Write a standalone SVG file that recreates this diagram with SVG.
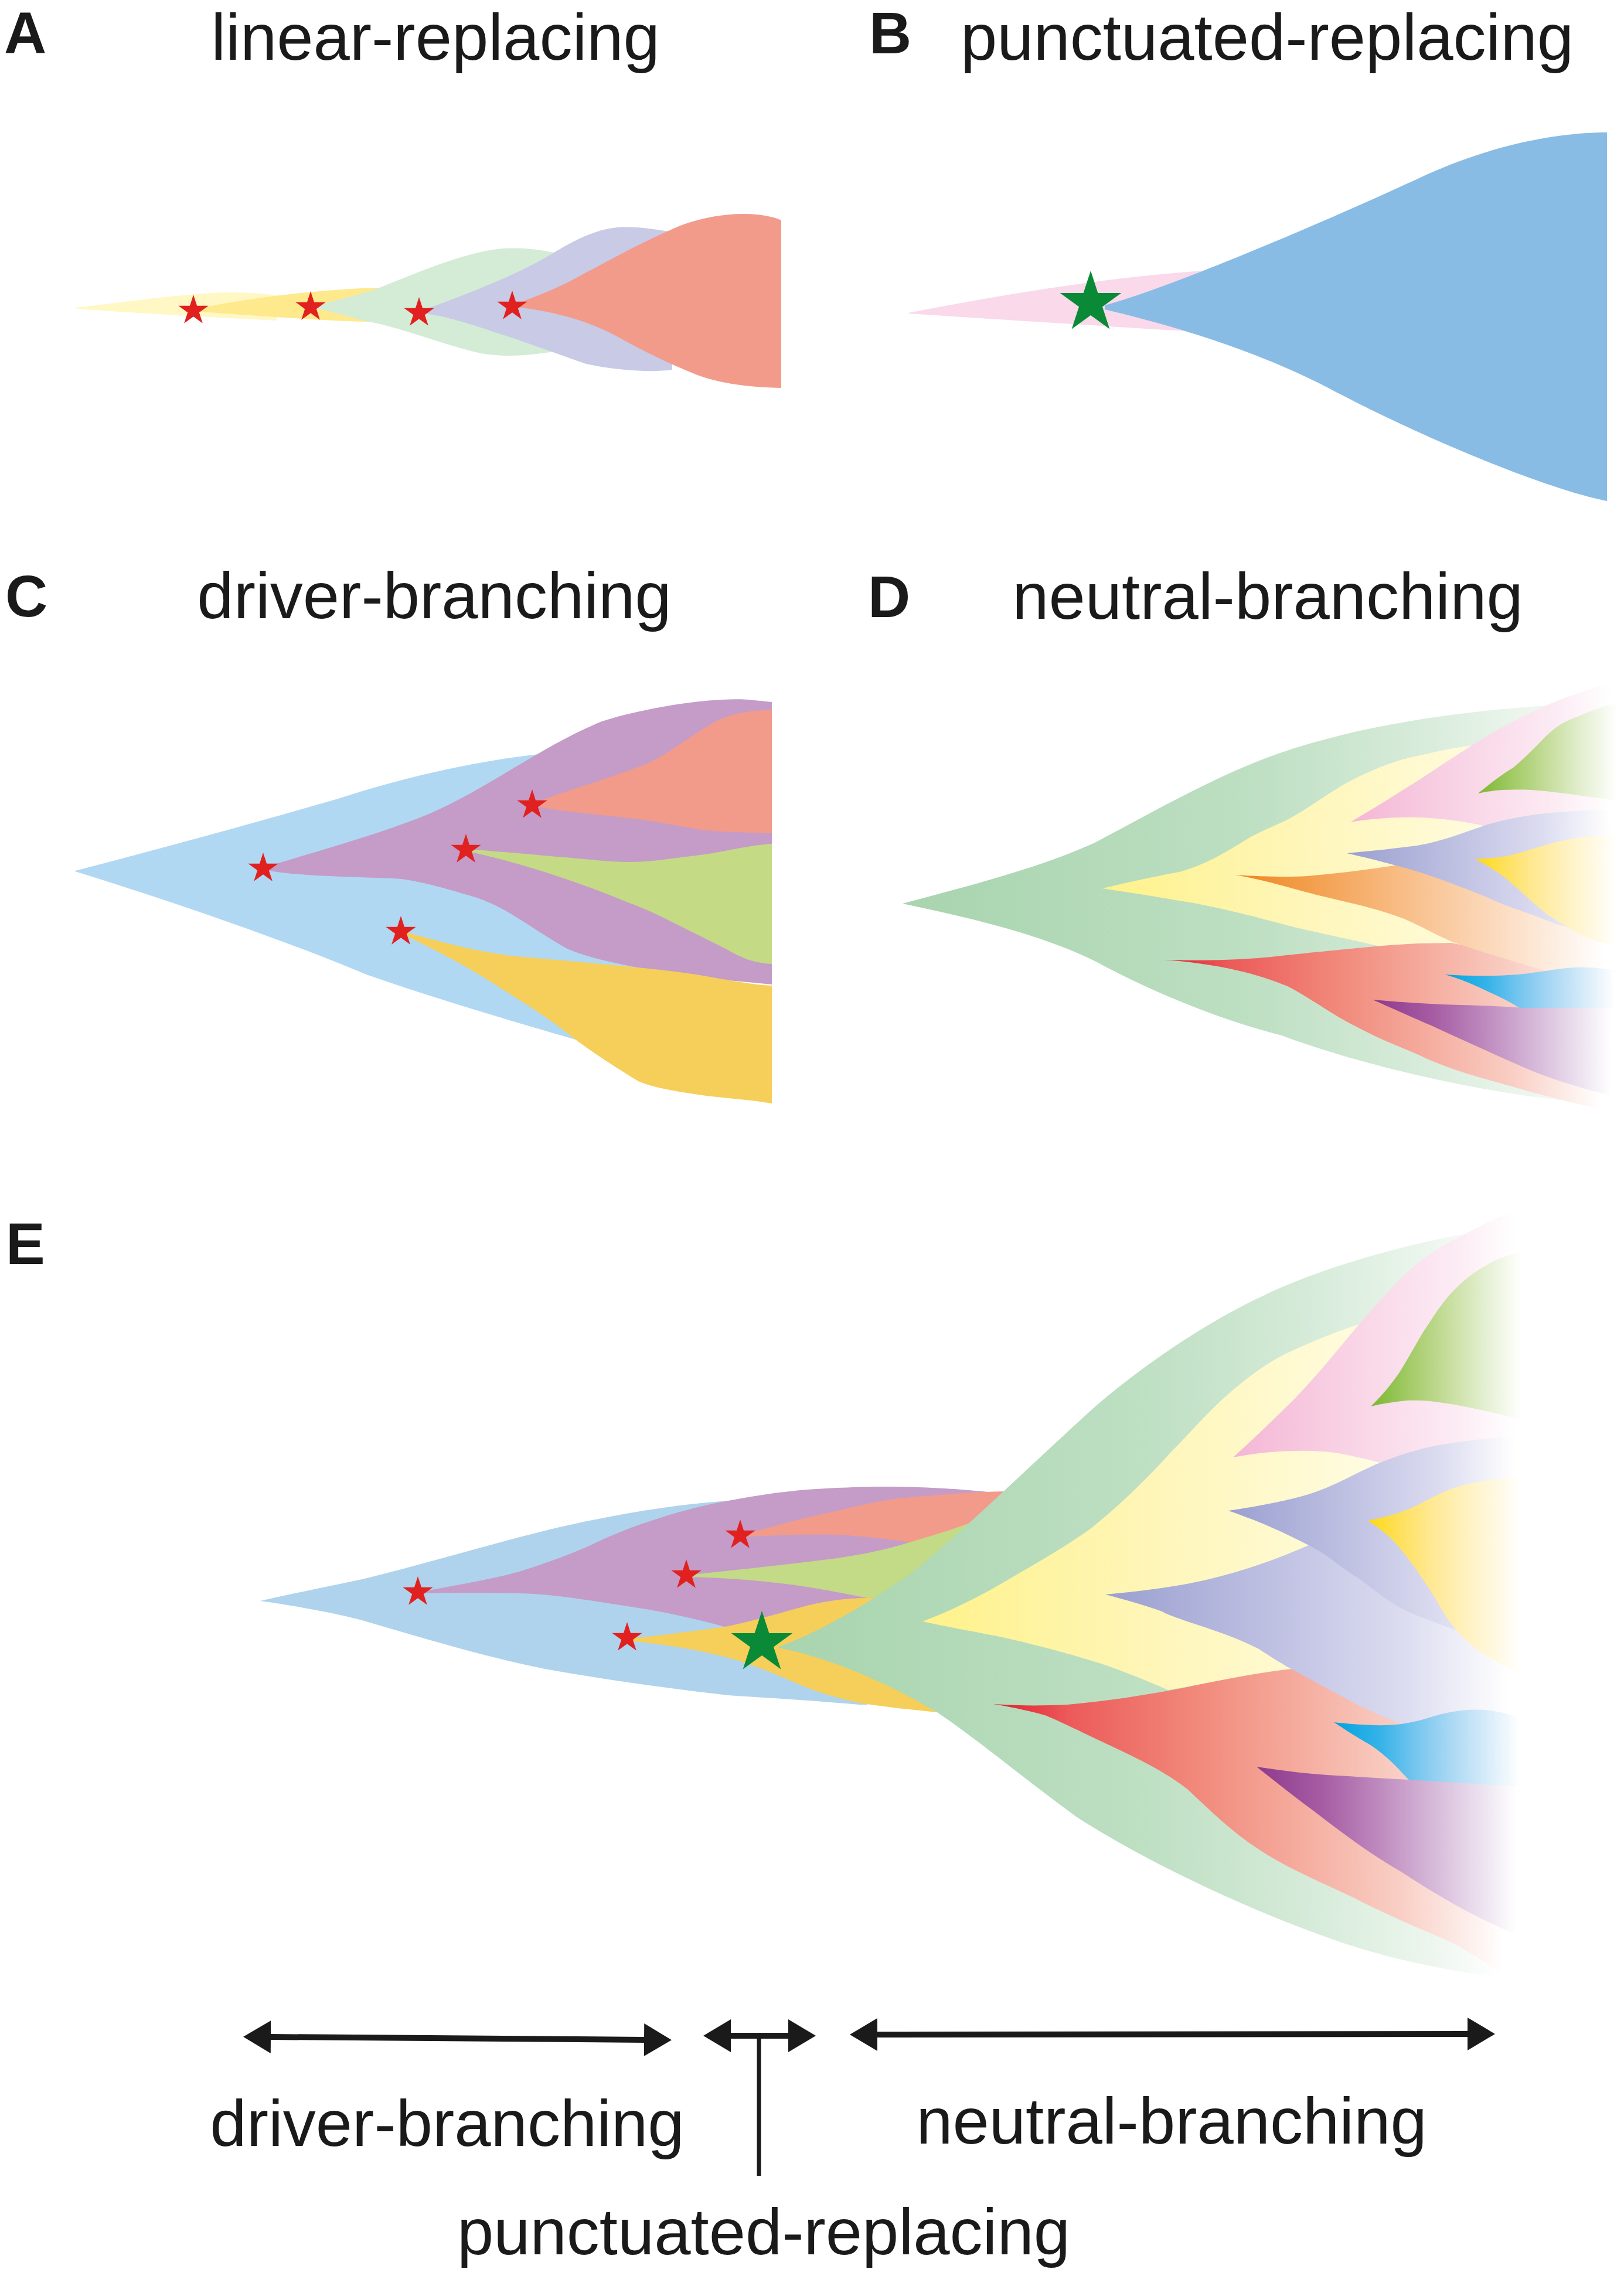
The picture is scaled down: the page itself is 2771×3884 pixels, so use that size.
<svg xmlns="http://www.w3.org/2000/svg" xmlns:xlink="http://www.w3.org/1999/xlink" width="2771" height="3884" viewBox="0 0 2771 3884">
<style>
.t{font-family:"Liberation Sans",Arial,sans-serif;font-size:112px;fill:#1a1a1a;text-anchor:middle}
.l{font-family:"Liberation Sans",Arial,sans-serif;font-size:100px;font-weight:bold;fill:#1a1a1a}
.rs{fill:#E1211F}
.gs{fill:#0A8A36}
.ar{fill:none;stroke:#1a1a1a;stroke-width:10}
</style>
<defs>
<path id="star" d="M0,-100 L22.45,-30.9 L95.1,-30.9 L36.33,11.8 L58.8,80.9 L0,38.2 L-58.8,80.9 L-36.33,11.8 L-95.1,-30.9 L-22.45,-30.9 Z"/>
<marker id="ah" viewBox="0 0 47 56" refX="1" refY="28" markerWidth="47" markerHeight="56" markerUnits="userSpaceOnUse" orient="auto-start-reverse">
<path d="M0,0 L47,28 L0,56 Z" fill="#1a1a1a"/>
</marker>
<linearGradient id="gGreen" x1="0" y1="0" x2="1" y2="0"><stop offset="0" stop-color="#A8D4AE"/><stop offset=".48" stop-color="#BDDFC2"/><stop offset=".71" stop-color="#D6EBD9"/><stop offset=".87" stop-color="#EDF6EE"/><stop offset=".96" stop-color="#FFFFFF"/></linearGradient>
<linearGradient id="gYellow" x1="0" y1="0" x2="1" y2="0"><stop offset="0" stop-color="#FFF28A"/><stop offset=".33" stop-color="#FEF5B3"/><stop offset=".66" stop-color="#FFFAD6"/><stop offset=".95" stop-color="#FFFFFF"/></linearGradient>
<linearGradient id="gPink" x1="0" y1="0" x2="1" y2="0"><stop offset="0" stop-color="#F4B6D5"/><stop offset=".43" stop-color="#F9D6E7"/><stop offset=".76" stop-color="#FCECF4"/><stop offset=".95" stop-color="#FFFFFF"/></linearGradient>
<linearGradient id="gOlive" x1="0" y1="0" x2="1" y2="0"><stop offset="0" stop-color="#7BB833"/><stop offset=".24" stop-color="#A3CB66"/><stop offset=".48" stop-color="#C6DD9C"/><stop offset=".71" stop-color="#E3EFD0"/><stop offset=".95" stop-color="#FFFFFF"/></linearGradient>
<linearGradient id="gLav" x1="0" y1="0" x2="1" y2="0"><stop offset="0" stop-color="#9A9FD0"/><stop offset=".48" stop-color="#C7C8E6"/><stop offset=".71" stop-color="#DCDDF0"/><stop offset=".95" stop-color="#FFFFFF"/></linearGradient>
<linearGradient id="gGold" x1="0" y1="0" x2="1" y2="0"><stop offset="0" stop-color="#FFD80F"/><stop offset=".19" stop-color="#FEE05A"/><stop offset=".38" stop-color="#FFE890"/><stop offset=".62" stop-color="#FFF2C2"/><stop offset=".95" stop-color="#FFFFFF"/></linearGradient>
<linearGradient id="gOrange" x1="0" y1="0" x2="1" y2="0"><stop offset="0" stop-color="#EF8420"/><stop offset=".19" stop-color="#F39E4C"/><stop offset=".43" stop-color="#F8BD86"/><stop offset=".71" stop-color="#FCDFC7"/><stop offset=".95" stop-color="#FFFFFF"/></linearGradient>
<linearGradient id="gRed" x1="0" y1="0" x2="1" y2="0"><stop offset="0" stop-color="#E31B2D"/><stop offset=".14" stop-color="#EC5A5A"/><stop offset=".38" stop-color="#F1897B"/><stop offset=".57" stop-color="#F5AC9E"/><stop offset=".76" stop-color="#F9CFC5"/><stop offset=".95" stop-color="#FFFFFF"/></linearGradient>
<linearGradient id="gBlue" x1="0" y1="0" x2="1" y2="0"><stop offset="0" stop-color="#00A3E0"/><stop offset=".24" stop-color="#36B3E8"/><stop offset=".4" stop-color="#70C4EE"/><stop offset=".57" stop-color="#A3D5F3"/><stop offset=".8" stop-color="#DCEEFA"/><stop offset=".95" stop-color="#FFFFFF"/></linearGradient>
<linearGradient id="gPurple" x1="0" y1="0" x2="1" y2="0"><stop offset="0" stop-color="#8E3A8D"/><stop offset=".24" stop-color="#A65CA3"/><stop offset=".43" stop-color="#BC86BC"/><stop offset=".66" stop-color="#D8BCDB"/><stop offset=".85" stop-color="#F0E8F3"/><stop offset=".95" stop-color="#FFFFFF"/></linearGradient>
</defs>
<rect width="2771" height="3884" fill="#FFFFFF"/>

<g id="panel-A">
<text class="l" x="7" y="91">A</text>
<text class="t" x="743" y="102">linear-replacing</text>
<path fill="#FFF8C5" d="M129,525 C220,515 330,498 402,499 C440,500 460,502 472,504 L472,547 C380,543 250,535 129,527 Z"/>
<path fill="#FEE98C" d="M330,528 C420,509 540,494 645,491 L665,491 L665,549 C600,550 520,545 330,531 Z"/>
<path fill="#D4EBD6" d="M529,523 C580,512 620,500 645,492 C700,470 770,440 830,428 C870,420 910,424 945,431 L945,600 C900,607 860,610 821,603 C760,590 690,560 625,548 C585,538 555,528 529,525 Z"/>
<path fill="#C8CAE6" d="M714,532 C790,505 880,470 937,436 C970,416 1010,392 1054,388 C1090,386 1120,392 1147,396 L1147,631 C1110,636 1050,632 1000,621 C960,607 900,585 857,571 C800,552 760,538 714,534 Z"/>
<path fill="#F29B8A" d="M873,521 C920,505 960,488 1000,465 C1040,445 1080,420 1161,385 C1200,370 1250,362 1290,366 C1310,368 1325,372 1333,376 L1333,662 C1280,661 1230,655 1190,640 C1140,620 1100,600 1060,578 C1020,555 960,532 873,523 Z"/>
<use href="#star" class="rs" transform="translate(330,530) scale(0.27)"/>
<use href="#star" class="rs" transform="translate(530,524) scale(0.27)"/>
<use href="#star" class="rs" transform="translate(715,534) scale(0.27)"/>
<use href="#star" class="rs" transform="translate(874,523) scale(0.27)"/>
</g>

<g id="panel-B">
<text class="l" x="1483" y="91">B</text>
<text class="t" x="2162" y="102">punctuated-replacing</text>
<path fill="#F9D9EA" d="M1550,534 C1700,505 1900,470 2073,461 L2080,540 L2038,566 C1880,556 1700,545 1550,535 Z"/>
<path fill="#88BCE5" d="M1885,521 C2000,490 2280,370 2432,299 C2540,250 2650,226 2742,226 L2742,855 C2620,830 2400,733 2274,666 C2150,600 2000,555 1885,528 Z"/>
<use href="#star" class="gs" transform="translate(1861,517) scale(0.55)"/>
</g>

<g id="panel-C">
<text class="l" x="9" y="1052">C</text>
<text class="t" x="741" y="1055">driver-branching</text>
<path fill="#B1D8F3" d="M128,1486 C230,1460 450,1400 580,1362 C680,1330 800,1300 920,1287 L1200,1282 L1200,1790 L1000,1784 L982,1774 C900,1750 760,1710 625,1663 C500,1610 300,1540 128,1487 Z"/>
<path fill="#C49CC7" d="M448,1481 C550,1450 660,1420 741,1385 C840,1340 930,1270 1027,1231 C1110,1205 1220,1190 1277,1194 L1317,1198 L1317,1680 C1230,1672 1160,1665 1116,1657 C1060,1645 1000,1635 964,1617 C900,1580 860,1545 804,1529 C740,1510 700,1500 670,1499 C560,1495 500,1494 448,1484 Z"/>
<path fill="#F29B8A" d="M908,1371 C980,1345 1050,1325 1107,1302 C1150,1280 1180,1255 1214,1235 C1240,1220 1270,1213 1317,1211 L1317,1422 C1260,1420 1230,1420 1196,1416 C1150,1408 1100,1398 1071,1396 C1020,1390 960,1385 908,1375 Z"/>
<path fill="#C4DA85" d="M795,1449 C880,1455 980,1465 1045,1470 C1100,1474 1140,1465 1179,1461 C1230,1456 1270,1443 1317,1440 L1317,1645 C1290,1643 1270,1638 1240,1620 C1210,1605 1190,1595 1160,1580 C1120,1560 1100,1550 1071,1540 C1000,1510 900,1475 795,1452 Z"/>
<path fill="#F5CF5A" d="M683,1588 C760,1610 830,1628 893,1633 C990,1642 1100,1650 1188,1663 C1240,1672 1280,1680 1317,1682 L1317,1883 C1280,1877 1240,1874 1205,1870 C1150,1862 1110,1855 1089,1845 C1040,1815 1010,1795 982,1774 C940,1740 900,1715 860,1690 C800,1650 740,1620 683,1592 Z"/>
<use href="#star" class="rs" transform="translate(449,1482) scale(0.27)"/>
<use href="#star" class="rs" transform="translate(908,1374) scale(0.27)"/>
<use href="#star" class="rs" transform="translate(795,1450) scale(0.27)"/>
<use href="#star" class="rs" transform="translate(684,1590) scale(0.27)"/>
</g>

<g id="panel-D">
<text class="l" x="1481" y="1053">D</text>
<text class="t" x="2163" y="1056">neutral-branching</text>
<path fill="url(#gGreen)" d="M1540,1542 C1640,1515 1780,1480 1872,1436 C1960,1390 2080,1320 2187,1284 C2300,1245 2450,1218 2624,1205 L2771,1200 L2771,1892 L2668,1878 C2500,1860 2300,1810 2187,1767 C2080,1740 1960,1690 1872,1642 C1780,1595 1650,1565 1540,1542 Z"/>
<path fill="url(#gYellow)" d="M1881,1516 C1940,1502 1990,1492 2012,1488 C2060,1475 2095,1452 2126,1433 C2150,1418 2175,1410 2200,1397 C2240,1375 2270,1350 2309,1330 C2350,1310 2380,1298 2418,1290 C2450,1283 2480,1276 2506,1273 L2771,1240 L2771,1640 L2500,1628 L2350,1614 C2290,1600 2240,1590 2200,1580 C2150,1567 2080,1547 2000,1535 C1960,1528 1920,1522 1881,1516 Z"/>
<path fill="url(#gRed)" d="M1986,1638 C2050,1640 2100,1638 2147,1635 C2200,1630 2240,1625 2275,1622 C2330,1616 2380,1612 2420,1610 L2477,1609 L2771,1670 L2771,1903 C2700,1885 2640,1872 2590,1857 C2530,1840 2490,1830 2442,1810 C2400,1790 2370,1780 2344,1767 C2310,1750 2290,1740 2270,1727 C2240,1708 2220,1695 2197,1683 C2160,1668 2130,1660 2098,1653 C2060,1645 2020,1640 1986,1638 Z"/>
<path fill="url(#gOrange)" d="M2106,1493 C2150,1496 2200,1497 2231,1495 C2290,1490 2340,1483 2379,1477 L2500,1465 L2771,1455 L2771,1685 C2720,1678 2680,1668 2639,1657 C2580,1640 2530,1625 2477,1607 C2440,1590 2420,1578 2393,1567 C2350,1550 2300,1540 2246,1527 C2190,1512 2150,1500 2106,1493 Z"/>
<path fill="url(#gPink)" d="M2304,1403 C2340,1382 2380,1357 2418,1333 C2450,1312 2480,1292 2510,1273 C2540,1253 2570,1237 2600,1222 C2625,1210 2650,1198 2673,1190 C2710,1177 2740,1167 2771,1158 L2771,1395 L2535,1410 C2500,1402 2460,1396 2418,1395 C2380,1394 2340,1397 2304,1403 Z"/>
<path fill="url(#gOlive)" d="M2522,1354 C2545,1335 2565,1320 2582,1310 C2600,1295 2620,1275 2637,1257 C2655,1240 2670,1230 2692,1223 C2720,1210 2745,1202 2771,1198 L2771,1368 C2730,1362 2680,1355 2637,1350 C2610,1347 2590,1347 2564,1348 C2550,1349 2535,1351 2522,1354 Z"/>
<path fill="url(#gLav)" d="M2298,1456 C2340,1452 2380,1448 2418,1443 C2460,1436 2500,1420 2535,1408 C2570,1398 2600,1392 2637,1388 C2680,1384 2720,1382 2771,1382 L2771,1608 L2655,1577 C2620,1562 2590,1553 2564,1543 C2540,1532 2515,1522 2491,1513 C2450,1497 2420,1487 2382,1477 C2350,1468 2320,1461 2298,1456 Z"/>
<path fill="url(#gGold)" d="M2517,1466 C2535,1465 2550,1464 2564,1462 C2590,1458 2620,1446 2655,1437 C2690,1428 2730,1425 2771,1425 L2771,1616 C2740,1612 2715,1605 2688,1590 C2670,1580 2655,1570 2639,1560 C2620,1545 2600,1525 2582,1510 C2560,1490 2540,1478 2517,1466 Z"/>
<path fill="url(#gBlue)" d="M2465,1663 C2510,1666 2550,1666 2590,1663 C2630,1659 2660,1652 2688,1651 C2720,1650 2745,1654 2771,1658 L2771,1789 C2750,1788 2730,1785 2713,1780 C2680,1770 2660,1762 2639,1750 C2610,1730 2580,1710 2541,1693 C2510,1678 2490,1670 2465,1663 Z"/>
<path fill="url(#gPurple)" d="M2342,1706 C2400,1711 2450,1714 2492,1715 C2530,1716 2560,1717 2600,1720 L2771,1720 L2771,1875 C2700,1858 2640,1840 2590,1817 C2540,1795 2490,1772 2442,1750 C2400,1732 2370,1718 2342,1706 Z"/>
</g>

<g id="panel-E">
<text class="l" x="10" y="2157">E</text>
<path fill="#AFD3EC" d="M444,2732 C520,2715 570,2705 618,2695 C720,2670 830,2637 930,2612 C1030,2588 1140,2568 1243,2561 C1300,2555 1380,2545 1421,2542 L1480,2545 L1480,2909 L1466,2909 C1400,2903 1320,2898 1243,2893 C1130,2880 1030,2866 930,2848 C830,2828 720,2795 618,2765 C560,2750 500,2740 444,2732 Z"/>
<path fill="#C49CC7" d="M713,2717 C780,2705 840,2695 886,2682 C940,2665 985,2648 1020,2631 C1050,2617 1080,2605 1109,2596 C1150,2582 1200,2568 1243,2561 C1290,2552 1330,2546 1377,2542 C1420,2539 1470,2537 1511,2537 C1570,2537 1630,2540 1695,2547 L1700,2565 L1600,2670 L1500,2760 L1300,2790 L1243,2778 C1180,2760 1120,2748 1064,2740 C1000,2730 940,2720 886,2719 C820,2718 770,2718 713,2719 Z"/>
<path fill="#F29B8A" d="M1263,2620 C1320,2605 1370,2590 1421,2580 C1470,2568 1510,2558 1555,2555 C1610,2550 1660,2546 1716,2545 L1720,2560 L1620,2650 L1555,2632 C1500,2625 1460,2620 1421,2619 C1370,2618 1320,2620 1263,2623 Z"/>
<path fill="#C3DA86" d="M1171,2688 C1250,2680 1340,2670 1421,2660 C1470,2653 1510,2645 1555,2631 C1600,2618 1640,2605 1671,2593 L1690,2580 L1700,2600 L1560,2720 L1484,2728 C1420,2715 1370,2706 1332,2702 C1280,2696 1230,2692 1171,2691 Z"/>
<path fill="#F5CF5A" d="M1070,2797 C1130,2790 1190,2783 1243,2775 C1290,2765 1340,2750 1377,2740 C1420,2730 1450,2727 1484,2727 L1600,2727 L1600,2922 C1560,2918 1510,2913 1466,2906 C1430,2898 1410,2892 1377,2880 C1330,2860 1290,2842 1243,2829 C1190,2815 1130,2805 1070,2800 Z"/>
<use href="#star" class="rs" transform="translate(713,2717) scale(0.27)"/>
<use href="#star" class="rs" transform="translate(1263,2620) scale(0.27)"/>
<use href="#star" class="rs" transform="translate(1171,2688) scale(0.27)"/>
<use href="#star" class="rs" transform="translate(1070,2795) scale(0.27)"/>
<path fill="url(#gGreen)" d="M1329,2810 C1400,2785 1490,2730 1553,2686 C1620,2635 1780,2480 1869,2400 C1950,2330 2060,2255 2156,2211 C2260,2160 2450,2105 2610,2090 L2610,3382 C2500,3368 2400,3350 2311,3322 C2150,3270 1960,3180 1836,3100 C1760,3045 1670,2970 1599,2922 C1520,2875 1420,2830 1329,2812 Z"/>
<path fill="url(#gYellow)" d="M1574,2767 C1620,2750 1670,2725 1706,2704 C1760,2672 1810,2645 1859,2610 C1910,2570 1960,2520 2000,2476 C2040,2435 2070,2400 2105,2371 C2140,2342 2170,2320 2207,2304 C2245,2287 2280,2272 2319,2260 L2450,2220 L2610,2200 L2610,2700 L2400,2880 L2203,2852 C2130,2862 2060,2872 1993,2884 C1950,2865 1900,2845 1859,2833 C1800,2815 1750,2803 1706,2793 C1660,2784 1610,2775 1574,2767 Z"/>
<path fill="url(#gRed)" d="M1695,2908 C1740,2911 1780,2911 1821,2909 C1890,2903 1950,2893 2000,2884 C2070,2870 2140,2855 2203,2848 L2400,2900 L2610,2950 L2610,3390 C2560,3370 2510,3330 2473,3313 C2420,3290 2360,3265 2311,3239 C2250,3210 2200,3190 2148,3156 C2100,3125 2060,3085 2027,3054 C1990,3025 1950,3005 1897,2980 C1850,2958 1810,2938 1783,2927 C1750,2918 1720,2912 1695,2908 Z"/>
<path fill="url(#gLav)" d="M1886,2721 C1950,2715 2010,2707 2054,2697 C2120,2682 2180,2660 2233,2637 C2280,2617 2320,2600 2360,2590 L2610,2540 L2610,2972 C2540,2965 2460,2958 2394,2943 C2360,2930 2340,2920 2318,2910 C2280,2890 2240,2868 2203,2848 C2180,2835 2160,2822 2148,2814 C2110,2795 2080,2785 2050,2775 C2020,2765 1990,2755 1983,2750 C1950,2738 1920,2730 1886,2721 Z"/>
<path fill="url(#gPink)" d="M2104,2487 C2140,2455 2175,2420 2207,2389 C2250,2345 2285,2300 2319,2260 C2350,2225 2380,2190 2411,2162 C2440,2140 2460,2125 2488,2112 C2530,2090 2570,2070 2610,2055 L2610,2460 L2460,2475 C2420,2485 2380,2492 2355,2496 C2330,2490 2300,2482 2270,2478 C2230,2474 2170,2474 2104,2487 Z"/>
<path fill="url(#gOlive)" d="M2339,2400 C2360,2380 2375,2360 2386,2345 C2405,2315 2420,2285 2437,2260 C2450,2240 2460,2225 2475,2208 C2500,2180 2530,2160 2560,2147 C2580,2140 2595,2135 2610,2133 L2610,2425 C2560,2415 2510,2400 2462,2394 C2440,2390 2420,2389 2400,2390 C2380,2392 2360,2395 2339,2400 Z"/>
<path fill="url(#gLav)" d="M2096,2578 C2150,2570 2200,2560 2233,2550 C2280,2535 2320,2510 2355,2496 C2395,2480 2430,2470 2462,2465 C2510,2457 2560,2452 2610,2450 L2610,2825 C2560,2810 2520,2797 2486,2783 C2450,2768 2420,2760 2386,2742 C2350,2720 2330,2700 2309,2688 C2280,2668 2260,2650 2233,2637 C2200,2620 2160,2600 2096,2578 Z"/>
<path fill="url(#gGold)" d="M2334,2595 C2360,2590 2390,2582 2411,2572 C2440,2558 2460,2545 2488,2537 C2530,2525 2570,2521 2610,2521 L2610,2862 C2590,2855 2560,2840 2530,2822 C2500,2800 2480,2780 2462,2750 C2445,2720 2420,2680 2386,2639 C2370,2620 2350,2605 2334,2595 Z"/>
<path fill="url(#gBlue)" d="M2276,2939 C2320,2944 2360,2946 2392,2942 C2420,2938 2440,2930 2460,2925 C2490,2918 2520,2915 2550,2920 C2575,2925 2595,2932 2610,2938 L2610,3162 C2580,3158 2540,3140 2509,3123 C2490,3110 2470,3100 2452,3083 C2430,3060 2410,3045 2394,3027 C2375,3005 2350,2985 2337,2977 C2310,2962 2290,2948 2276,2939 Z"/>
<path fill="url(#gPurple)" d="M2144,3015 C2190,3022 2240,3028 2280,3030 C2330,3033 2380,3036 2420,3038 L2610,3050 L2610,3310 C2540,3285 2460,3240 2392,3195 C2340,3165 2290,3128 2241,3090 C2200,3060 2170,3035 2144,3015 Z"/>
<use href="#star" class="gs" transform="translate(1300,2804) scale(0.55)"/>
</g>

<g id="labels">
<text class="t" x="763" y="3662">driver-branching</text>
<text class="t" x="1999" y="3658">neutral-branching</text>
<text class="t" x="1303" y="3847">punctuated-replacing</text>
</g>

<g id="connectors">
<line class="ar" x1="461" y1="3476" x2="1100" y2="3481" marker-start="url(#ah)" marker-end="url(#ah)"/>
<line class="ar" x1="1246" y1="3474" x2="1346" y2="3474" marker-start="url(#ah)" marker-end="url(#ah)"/>
<line x1="1295" y1="3474" x2="1295" y2="3713" stroke="#1a1a1a" stroke-width="7"/>
<line class="ar" x1="1496" y1="3472" x2="2505" y2="3471" marker-start="url(#ah)" marker-end="url(#ah)"/>
</g>
</svg>
